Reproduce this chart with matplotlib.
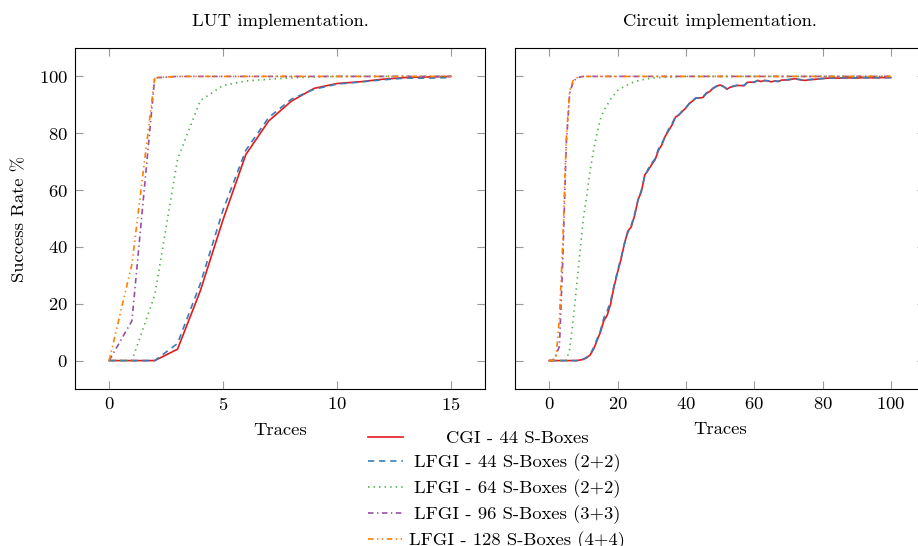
import matplotlib.pyplot as plt
from matplotlib.offsetbox import DrawingArea

plt.rcParams['font.family'] = ['cmr10', 'DejaVu Serif']
plt.rcParams['mathtext.fontset'] = 'cm'
plt.rcParams['axes.formatter.use_mathtext'] = True
plt.rcParams['lines.scale_dashes'] = False
plt.rcParams['font.size'] = 13.4

# LUT implementation (left)
lut_x = [0, 1, 2, 3, 4, 5, 6, 7, 8, 9, 10, 11, 12, 13, 14, 15]
lut_cgi44 = [0, 0, 0, 4, 24.5, 49.6, 72.5, 84.3, 91.3, 95.8, 97.5, 98.1, 99, 99.6, 99.8, 100]
lut_lfgi44 = [0, 0, 0, 6, 27, 53, 74, 85.5, 92, 95.5, 97.3, 98, 98.8, 99.4, 99.4, 99.6]
lut_lfgi64 = [0, 0, 23, 70.8, 91.5, 96.8, 98.4, 99, 99.5, 99.8, 100, 100, 100, 100, 100, 100]
lut_lfgi96 = [0, 14, 99.5, 100, 100, 100, 100, 100, 100, 100, 100, 100, 100, 100, 100, 100]
lut_lfgi128 = [0, 34, 99.6, 100, 100, 100, 100, 100, 100, 100, 100, 100, 100, 100, 100, 100]

# Circuit implementation (right)
circ_x = [0, 5, 8, 10, 11, 12, 13, 14, 15, 16, 17, 18, 19, 20, 21, 22, 23, 24, 25,
          26, 27, 28, 29, 30, 31, 32, 33, 34, 35, 36, 37, 38, 39, 40, 41, 42, 43,
          44, 45, 46, 47, 48, 49, 50, 51, 52, 53, 54, 55, 56, 57, 58, 59, 60, 61,
          62, 63, 64, 65, 66, 67, 68, 70, 72, 74, 75, 76, 78, 80, 82, 85, 88, 90,
          92, 95, 98, 100]
circ_cgi44 = [0, 0, 0, 0.4, 1, 2, 4, 7, 10, 14, 16, 20, 26, 31, 35.5, 41, 45.5, 47, 51,
              56.5, 59.5, 65.4, 67, 69, 70.7, 74, 76, 79, 81, 83, 85.7, 86.5, 87.7, 88.9, 90.4, 91.4, 92.4,
              92.4, 92.6, 94, 94.7, 95.9, 96.5, 97, 96.5, 95.5, 96.2, 96.5, 96.8, 96.8, 96.7, 97.9, 98, 97.9, 98.6,
              98.2, 98.6, 98.4, 98.1, 98.4, 98.2, 98.7, 98.8, 99.2, 98.7, 98.6, 98.8, 99, 99.3, 99.4, 99.4, 99.5, 99.4,
              99.6, 99.5, 99.6, 99.6]
circ_lfgi44 = [0, 0, 0, 0.5, 1.2, 2.3, 4.5, 7.5, 10.5, 15, 17.5, 21, 26.5, 31.5, 36, 41, 45, 47.5, 51.5,
               56.5, 60, 65, 67.5, 69.5, 71, 74.5, 76.5, 79, 81.5, 83.5, 86, 86.5, 88, 89, 90.5, 91.5, 92.5,
               92.3, 92.8, 94.2, 94.8, 95.8, 96.6, 97.1, 96.4, 95.7, 96.3, 96.6, 96.9, 96.7, 96.9, 97.8, 98.1, 98, 98.5,
               98.3, 98.5, 98.5, 98.2, 98.3, 98.3, 98.6, 98.9, 99.1, 98.8, 98.7, 98.9, 99.1, 99.2, 99.4, 99.5, 99.4, 99.5,
               99.5, 99.6, 99.5, 99.6]
circ_x64 = [0, 5, 6, 7, 8, 9, 10, 11, 12, 13, 14, 15, 16, 17, 18, 20, 22, 25, 28, 30, 35, 40,
            50, 60, 70, 80, 90, 100]
circ_lfgi64 = [0, 0, 4, 14, 26, 38, 50, 58, 67, 74, 80, 85, 88, 90, 92, 95, 96.5, 98.2, 99, 99.4, 99.8, 100,
               100, 100, 100, 100, 100, 100]
circ_xfast = [0, 1, 2, 3, 4, 5, 6, 7, 8, 9, 10, 20, 30, 40, 50, 60, 70, 80, 90, 100]
circ_lfgi96 = [0, 0, 2, 5, 36, 76, 94, 98, 99.4, 99.8, 100, 100, 100, 100, 100, 100, 100, 100, 100, 100]
circ_lfgi128 = [0, 0, 1, 15, 42, 78, 95, 98.5, 99.5, 99.8, 100, 100, 100, 100, 100, 100, 100, 100, 100, 100]

labels = ['CGI - 44 S-Boxes', 'LFGI - 44 S-Boxes (2+2)', 'LFGI - 64 S-Boxes (2+2)',
          'LFGI - 96 S-Boxes (3+3)', 'LFGI - 128 S-Boxes (4+4)']
colors = ['#e41a1c', '#377eb8', '#4daf4a', '#984ea3', '#ff7f00']
styles = ['-', (0, (4.5, 3.5)), (0, (1, 3)), (0, (4, 2.5, 1, 2.5)), (0, (4, 2.5, 1, 2.5, 1, 2.5))]

fig = plt.figure(figsize=(9.18, 5.46), dpi=100)
ax1 = fig.add_axes([75 / 918, 157 / 546, 410 / 918, 341 / 546])
ax2 = fig.add_axes([515 / 918, 157 / 546, 410 / 918, 341 / 546])

left_data = [lut_cgi44, lut_lfgi44, lut_lfgi64, lut_lfgi96, lut_lfgi128]
right_data = [(circ_x, circ_cgi44), (circ_x, circ_lfgi44), (circ_x64, circ_lfgi64),
              (circ_xfast, circ_lfgi96), (circ_xfast, circ_lfgi128)]

handles = []
for i in range(5):
    h, = ax1.plot(lut_x, left_data[i], color=colors[i], ls=styles[i], lw=1.2)
    ax2.plot(right_data[i][0], right_data[i][1], color=colors[i], ls=styles[i], lw=1.2)
    handles.append(h)

ax1.set_xlim(-1.5, 16.5)
ax1.set_xticks([0, 5, 10, 15])
ax2.set_xlim(-10, 110)
ax2.set_xticks([0, 20, 40, 60, 80, 100])
for ax in [ax1, ax2]:
    ax.set_ylim(-10, 110)
    ax.set_yticks([0, 20, 40, 60, 80, 100])
    ax.tick_params(direction='in', length=6, width=0.8, color='0.6', top=True, right=True, pad=5)
    ax.set_xlabel('Traces', labelpad=7)
    for s in ax.spines.values():
        s.set_linewidth(0.8)
ax2.tick_params(labelleft=False)

ax1.set_ylabel('Success Rate %', labelpad=8)
ax1.set_title('LUT implementation.', pad=16, fontsize=13.4)
ax2.set_title('Circuit implementation.', pad=16, fontsize=13.4)

# legend below the plots, text centred like pgfplots
leg = fig.legend(handles, labels, loc='upper left', bbox_to_anchor=(359 / 918, 0.2295),
                 frameon=False, handlelength=1.88, handletextpad=0, labelspacing=0.39, borderpad=0)
fig.canvas.draw()
r = fig.canvas.get_renderer()
widths = [t.get_window_extent(r).width for t in leg.get_texts()]
wmax = max(widths)
column = leg._legend_handle_box.get_children()[0]
for row, w in zip(column.get_children(), widths):
    gap = DrawingArea((6 + (wmax - w) / 2) * 72 / fig.dpi, 1)
    row.get_children().insert(1, gap)

fig.savefig('out.png', dpi=100)
